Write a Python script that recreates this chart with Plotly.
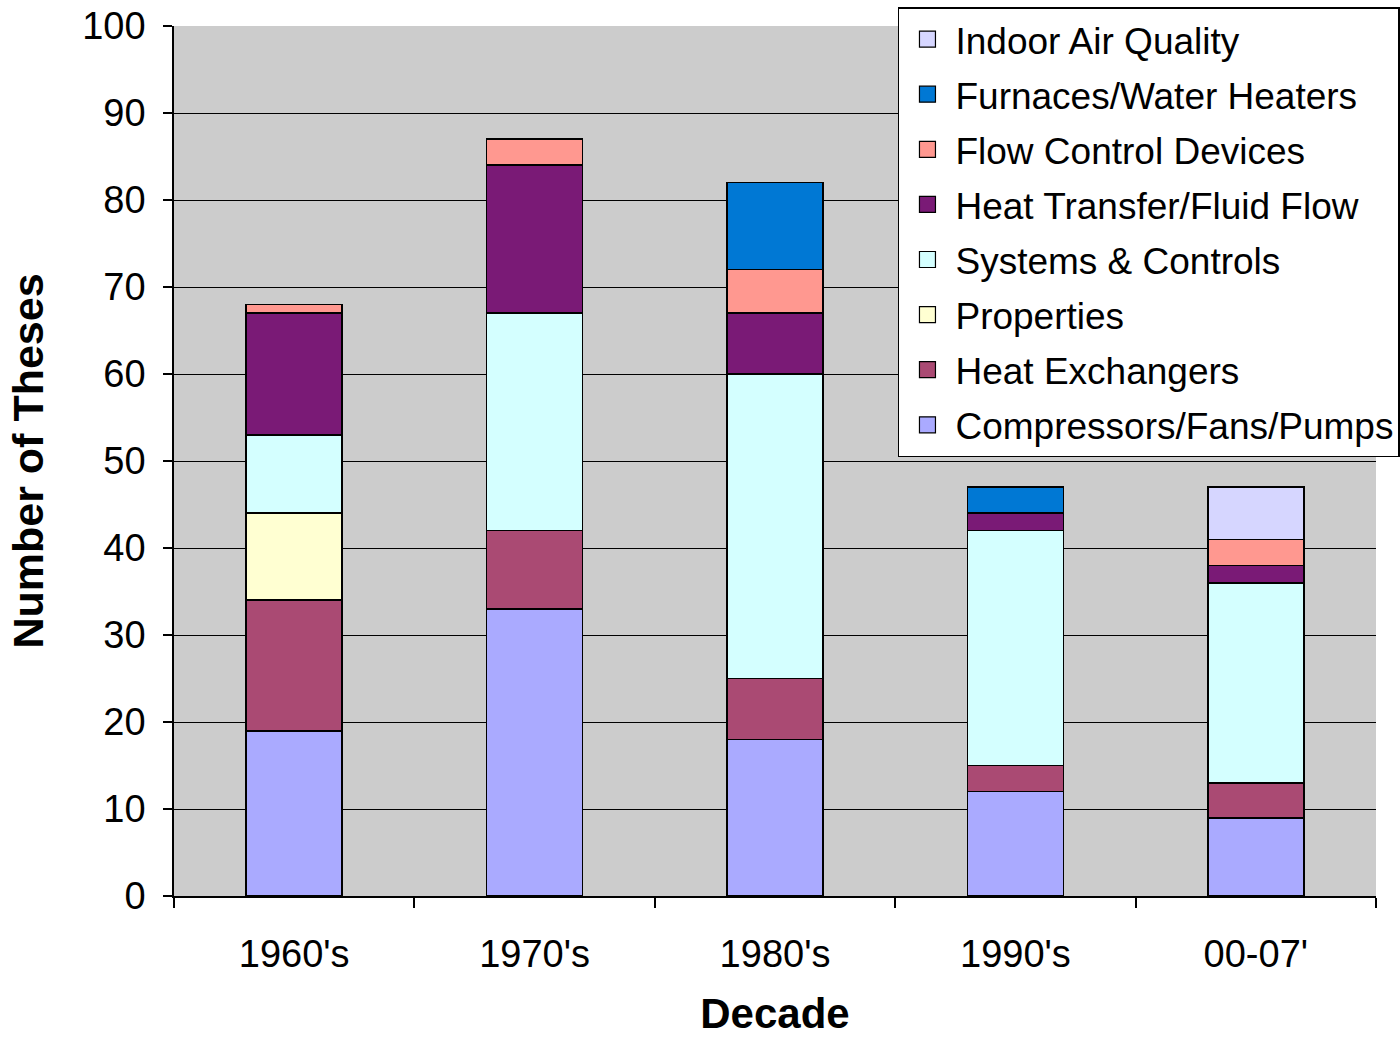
import plotly.graph_objects as go

decades = ["1960's", "1970's", "1980's", "1990's", "00-07'"]

compressors = [19, 33, 18, 12, 9]
heat_exchangers = [15, 9, 7, 3, 4]
properties = [10, 0, 0, 0, 0]
systems_controls = [9, 25, 35, 27, 23]
heat_transfer = [14, 17, 7, 2, 2]
flow_control = [1, 3, 5, 0, 3]
furnaces = [0, 0, 10, 3, 0]
indoor_air = [0, 0, 0, 0, 6]

series = [
    ("Compressors/Fans/Pumps", compressors, "#AAAAFF"),
    ("Heat Exchangers", heat_exchangers, "#AA4A73"),
    ("Properties", properties, "#FFFFD2"),
    ("Systems & Controls", systems_controls, "#D4FFFF"),
    ("Heat Transfer/Fluid Flow", heat_transfer, "#7A1A76"),
    ("Flow Control Devices", flow_control, "#FF9890"),
    ("Furnaces/Water Heaters", furnaces, "#0078D4"),
    ("Indoor Air Quality", indoor_air, "#D6D6FF"),
]

FONT = "Liberation Sans, Arial, sans-serif"

fig = go.Figure()
for name, vals, color in series:
    fig.add_trace(go.Bar(
        x=decades, y=vals, name=name,
        marker=dict(color=color, line=dict(color="black", width=1.6)),
        showlegend=False,
    ))
# legend entries (top to bottom: reverse of stacking order)
for name, vals, color in reversed(series):
    fig.add_trace(go.Scatter(
        x=[None], y=[None], mode="markers", name=name, legendgroup=name,
        marker=dict(symbol="square", size=16, color=color,
                    line=dict(color="black", width=1.2)),
        showlegend=True, hoverinfo="skip",
    ))

fig.update_layout(
    width=1400, height=1037,
    barmode="stack", bargap=0.6,
    paper_bgcolor="white", plot_bgcolor="#CCCCCC",
    margin=dict(l=174, r=24, t=26, b=141, autoexpand=False),
    font=dict(family=FONT, size=37, color="black"),
    legend=dict(
        x=0.6023, y=1.0218, xanchor="left", yanchor="top",
        bgcolor="white", bordercolor="black", borderwidth=1.5,
        font=dict(family=FONT, size=37, color="black"),
        traceorder="grouped", tracegroupgap=4,
        itemwidth=46,
    ),
    xaxis=dict(
        type="category", range=[-0.5, 4.5],
        showline=True, linecolor="black", linewidth=1.5,
        ticks="outside", ticklen=10, tickcolor="black", tickwidth=1.5,
        tickson="boundaries", showgrid=False, ticklabelstandoff=24,
        tickfont=dict(family=FONT, size=38),
        title=dict(text="<b>Decade</b>", font=dict(family=FONT, size=42), standoff=28),
    ),
    yaxis=dict(
        range=[0, 100], dtick=10,
        showline=True, linecolor="black", linewidth=1.5,
        ticks="outside", ticklen=9, tickcolor="black", tickwidth=1.5,
        showgrid=True, gridcolor="black", gridwidth=1.3,
        zeroline=False, ticklabelstandoff=10, ticklabeloverflow="allow",
        tickfont=dict(family=FONT, size=38),
        title=dict(text="<b>Number of Theses</b>", font=dict(family=FONT, size=43), standoff=25),
    ),
)

fig.write_html("out.html", config={"displayModeBar": False},
               post_script="document.body.style.margin='0';")
